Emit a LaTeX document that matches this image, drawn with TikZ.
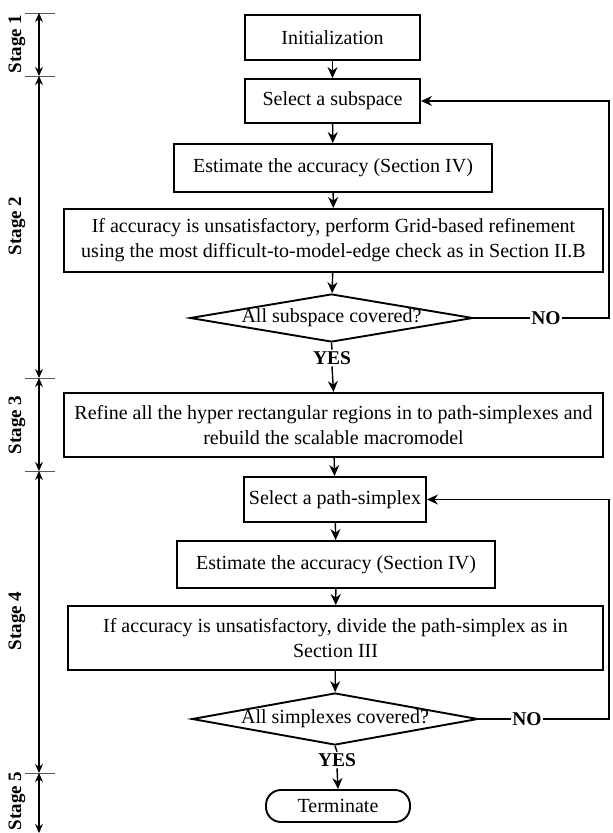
\documentclass[tikz,border=0pt]{standalone}
\usepackage{fontspec}
\setmainfont{Liberation Serif}
\usetikzlibrary{arrows.meta,positioning,shapes.geometric}

\begin{document}
\begin{tikzpicture}[x=1pt, y=-1pt, >={Stealth[length=11pt,width=10pt]}, line width=1.4pt,
    font=\fontsize{20}{25}\selectfont,
    box/.style={draw, line width=1.9pt, align=center, inner sep=0pt},
    decision/.style={draw, diamond, line width=1.9pt, inner sep=0pt},
    lbl/.style={font=\bfseries\fontsize{19.5}{22}\selectfont, inner sep=1pt},
    stagelbl/.style={rotate=90, font=\bfseries\fontsize{19}{22}\selectfont, inner sep=0pt},
    stagearr/.style={line width=1.1pt, {Stealth[length=9pt,width=8pt]}-{Stealth[length=9pt,width=8pt]}},
    tick/.style={line width=1pt, draw=black!65}]
    \useasboundingbox (0,0) rectangle (613,833);
    % stage bar
    \foreach \i/\y in {1/13,2/76,3/378,4/471,5/773} {
      \coordinate (t\i) at (39,\y);
      \draw[tick] (25,\y) -- (55,\y);
    }
    \coordinate (tend) at (39,833);
    \draw[stagearr] (t1) -- (t2);
    \draw[stagearr] (t2) -- (t3);
    \draw[stagearr] (t3) -- (t4);
    \draw[stagearr] (t4) -- (t5);
    \draw[stagearr] (t5) -- (tend);
    \node[stagelbl] (s1) at (17,44) {Stage 1};
    \node[stagelbl] (s2) at (17,226) {Stage 2};
    \node[stagelbl] (s3) at (17,425) {Stage 3};
    \node[stagelbl] (s4) at (17,621) {Stage 4};
    \node[stagelbl] (s5) at (17,801) {Stage 5};
    % stage 1 and 2
    \node[box, minimum width=175pt, minimum height=45pt] (init) at (332.5,37.5) {Initialization};
    \node[box, minimum width=175pt, minimum height=44pt] (selsub) at (332.5,101) {Select a subspace};
    \node[box, minimum width=318pt, minimum height=48pt] (est1) at (333,168) {Estimate the accuracy (Section IV)};
    \node[box, minimum width=539pt, minimum height=63pt] (grid) at (333.5,240.5) {If accuracy is unsatisfactory, perform Grid-based refinement\\using the most difficult-to-model-edge check as in Section II.B};
    \node[decision, minimum width=283pt, minimum height=48pt] (cover1) at (331.5,318) {\makebox[0pt]{All subspace covered?}};
    \node[lbl] (yes1) at (332,358) {YES};
    \node[lbl] (no1) at (546,318) {NO};
    \coordinate (loop1) at (609,318);
    % stage 3
    \node[box, minimum width=539pt, minimum height=64pt] (rebuild) at (333.5,425) {Refine all the hyper rectangular regions in to path-simplexes and\\rebuild the scalable macromodel};
    % stage 4
    \node[box, minimum width=182pt, minimum height=45pt] (selsimp) at (335,499.5) {Select a path-simplex};
    \node[box, minimum width=318pt, minimum height=47pt] (est2) at (336,564.5) {Estimate the accuracy (Section IV)};
    \node[box, minimum width=535pt, minimum height=64pt] (divide) at (335.5,638) {If accuracy is unsatisfactory, divide the path-simplex as in\\Section III};
    \node[decision, minimum width=286pt, minimum height=52pt] (cover2) at (335,719) {\makebox[0pt]{All simplexes covered?}};
    \node[lbl] (yes2) at (337,760) {YES};
    \node[lbl] (no2) at (527,719) {NO};
    \coordinate (loop2) at (609,719);
    % stage 5
    \node[box, rounded corners=15pt, minimum width=144pt, minimum height=32pt] (term) at (338,806) {Terminate};

    \draw[->] (init) -- (selsub);
    \draw[->] (selsub) -- (est1);
    \draw[->] (est1) -- (grid);
    \draw[->] (grid) -- (cover1);
    \draw (cover1.south) -- (yes1.north);
    \draw[->] (yes1.south) -- (rebuild.north);
    \draw (cover1.east) -- (no1.west);
    \draw[->] (no1.east) -- (loop1) |- (selsub.east);
    \draw[->] (rebuild) -- (selsimp);
    \draw[->] (selsimp) -- (est2);
    \draw[->] (est2) -- (divide);
    \draw[->] (divide) -- (cover2);
    \draw (cover2.south) -- (yes2.north);
    \draw[->] (yes2.south) -- (term.north);
    \draw (cover2.east) -- (no2.west);
    \draw[->] (no2.east) -- (loop2) |- (selsimp.east);
  \end{tikzpicture}
\end{document}
